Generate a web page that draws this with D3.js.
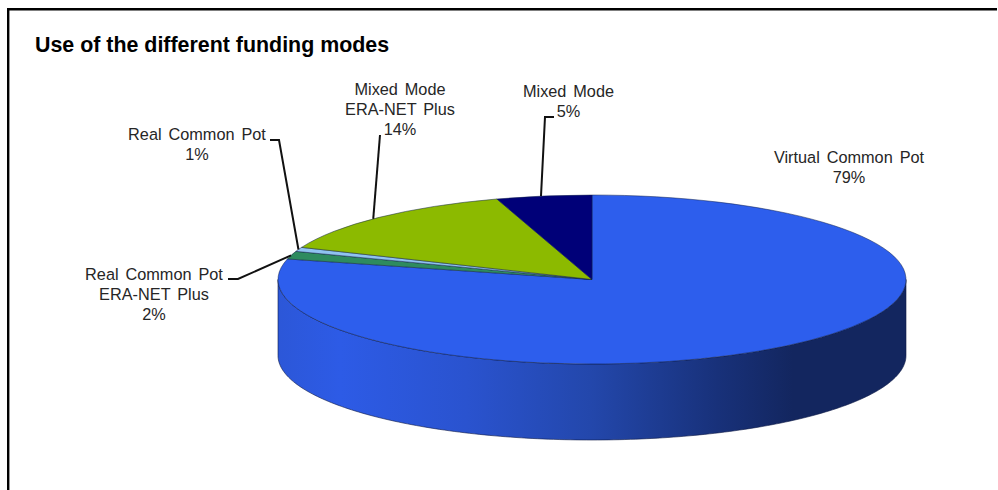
<!DOCTYPE html>
<html>
<head>
<meta charset="utf-8">
<script src="https://cdn.jsdelivr.net/npm/d3@7"></script>
<style>
    html, body { margin: 0; padding: 0; background: #fff; overflow: hidden; }
    text { font-family: "Liberation Sans", Arial, sans-serif; fill: #262626; }
</style>
</head>
<body>
<script>
var title = "Use of the different funding modes";

// clockwise from 12 o'clock
var categories = [
    ["Virtual Common Pot"],
    ["Real Common Pot", "ERA-NET Plus"],
    ["Real Common Pot"],
    ["Mixed Mode", "ERA-NET Plus"],
    ["Mixed Mode"]
];
var shares = [78.9, 1.5, 0.8, 13.9, 4.9];
var colors = ["#2d5eed", "#2e8b5f", "#8fc3f0", "#8cba00", "#000078"];

// label anchor: text centre x, first baseline y; elbow: where the leader leaves the label
var labelPos = [
    {x: 849, y: 163, elbow: null},
    {x: 154, y: 280, elbow: [228, 279, 238, 279]},
    {x: 197, y: 140, elbow: [270, 140, 279, 140]},
    {x: 400, y: 95, elbow: [380, 135, 380, 135]},
    {x: 568.5, y: 97, elbow: [554, 117, 545, 117]}
];

var width = 998, height = 490;
var cx = 592, cy = 279.5, rx = 314, ry = 84.5, depth = 76;

var svg = d3.select("body").append("svg")
    .attr("width", width)
    .attr("height", height);

// frame
svg.append("path")
    .attr("d", "M8.2,490V9.2H997")
    .attr("fill", "none")
    .attr("stroke", "#000")
    .attr("stroke-width", 2.4);

svg.append("text")
    .attr("x", 35)
    .attr("y", 52)
    .attr("font-size", 21.4)
    .attr("font-weight", "bold")
    .style("fill", "#000")
    .text(title);

var pie = d3.pie().sort(null).value(function(d) { return d; });
var arcs = pie(shares);
var unitArc = d3.arc().innerRadius(0).outerRadius(1);

// side wall
var grad = svg.append("defs").append("linearGradient")
    .attr("id", "wall")
    .attr("gradientUnits", "userSpaceOnUse")
    .attr("x1", cx - rx).attr("x2", cx + rx)
    .attr("y1", 0).attr("y2", 0);
[[0, "#2c57d8"], [0.1, "#2d5be6"], [0.3, "#2a53cf"], [0.5, "#2347ab"], [0.7, "#18317a"], [0.82, "#13265f"], [1, "#13265f"]].forEach(function(s) {
    grad.append("stop").attr("offset", s[0]).attr("stop-color", s[1]);
});

var ellipseLine = d3.line();
function rim(yOffset, fromDeg, toDeg) {
    return d3.range(fromDeg, toDeg + 0.5, 1).map(function(a) {
        var t = a * Math.PI / 180;
        return [cx + rx * Math.cos(t), cy + yOffset + ry * Math.sin(t)];
    });
}
svg.append("path")
    .attr("d", ellipseLine(rim(0, 0, 180).concat(rim(depth, 0, 180).reverse())) + "Z")
    .attr("fill", "url(#wall)")
    .attr("stroke", "#0d1a44")
    .attr("stroke-width", 0.6);

// top face
var face = svg.append("g")
    .attr("transform", "translate(" + cx + "," + cy + ") scale(" + rx + "," + ry + ")");
face.selectAll("path")
    .data(arcs)
    .enter().append("path")
    .attr("d", unitArc)
    .attr("fill", function(d, i) { return colors[i]; })
    .attr("stroke", "#10204a")
    .attr("stroke-width", 0.5)
    .attr("vector-effect", "non-scaling-stroke");

// labels
arcs.forEach(function(d, i) {
    var pos = labelPos[i];
    var lines = categories[i].concat([Math.round(shares[i]) + "%"]);
    var label = svg.append("text")
        .attr("text-anchor", "middle")
        .attr("font-size", 16.3)
        .attr("word-spacing", 2.4);
    lines.forEach(function(line, k) {
        label.append("tspan")
            .attr("x", pos.x)
            .attr("y", pos.y + k * 20)
            .text(line);
    });

    if (pos.elbow) {
        // leaders meet the rim a little before the middle of the slice
        var at = d.startAngle + (d.endAngle - d.startAngle) * 0.47;
        var e = pos.elbow;
        svg.append("polyline")
            .attr("points", [e[0], e[1], e[2], e[3], cx + rx * Math.sin(at), cy - ry * Math.cos(at)].join(" "))
            .attr("fill", "none")
            .attr("stroke", "#111")
            .attr("stroke-width", 2);
    }
});
</script>
</body>
</html>
